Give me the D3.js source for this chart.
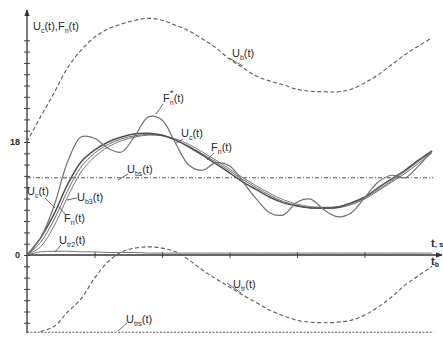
<!DOCTYPE html>
<html>
<head>
<meta charset="utf-8">
<script src="https://cdn.jsdelivr.net/npm/d3@7"></script>
<style>
	body { margin:0; background:#fff; }
	svg { display:block; font-family:'Liberation Sans', Arial, sans-serif; }
	.lbl { font-size:11px; fill:#2a2a2a; }
	.lbl-sub { font-size:7px; }
	.leader { stroke:#555; stroke-width:0.9; }
</style>
</head>
<body>
<svg id="chart" width="443" height="338"></svg>
<script>

// time grid (t, steps of 0.2) and series
var aTime = [0, 0.2, 0.4, 0.6, 0.8, 1.0, 1.2, 1.4, 1.6, 1.8, 2.0, 2.2, 2.4, 2.6, 2.8, 3.0,
	3.2, 3.4, 3.6, 3.8, 4.0, 4.2, 4.4, 4.6, 4.8, 5.0, 5.2, 5.4, 5.6, 5.8, 6.0];

var aUc = [0, 2.7, 6.5, 11.2, 14.8, 16.7, 18.0, 18.8, 19.3, 19.4, 19.1, 18.3, 17.2, 15.9, 14.5, 13.1,
	11.6, 10.4, 9.2, 8.3, 7.8, 7.5, 7.5, 7.6, 8.3, 9.2, 10.7, 12.1, 13.5, 15.1, 16.6];
var aFn = [0, 2.0, 5.6, 10.2, 14.0, 16.2, 17.6, 18.5, 19.0, 19.2, 19.0, 18.3, 17.3, 16.1, 14.8, 13.4,
	12.0, 10.7, 9.5, 8.5, 7.9, 7.5, 7.4, 7.5, 8.0, 8.9, 10.2, 11.6, 13.0, 14.6, 16.2];
var aUb3 = [0, 1.3, 4.6, 9.2, 13.2, 15.6, 17.2, 18.2, 18.8, 19.1, 19.0, 18.5, 17.6, 16.4, 15.1, 13.7,
	12.3, 11.0, 9.8, 8.8, 8.1, 7.7, 7.6, 7.7, 8.2, 9.1, 10.4, 11.8, 13.3, 14.9, 16.4];
var aFnStar = [0, 2.7, 7.8, 14.8, 18.8, 18.6, 17.0, 16.4, 19.0, 22.0, 21.5, 17.8, 14.3, 13.5, 14.7, 14.2,
	11.6, 8.9, 6.7, 6.4, 8.4, 8.9, 7.2, 6.1, 6.7, 9.1, 11.6, 12.7, 12.3, 14.2, 16.6];
var aUb = [18.0, 22.0, 25.8, 29.8, 32.6, 34.7, 36.0, 36.8, 37.4, 37.7, 37.4, 36.6, 35.7, 34.4, 33.0, 31.2,
	29.8, 28.5, 27.7, 27.1, 26.4, 26.1, 26.0, 26.0, 26.4, 27.4, 28.7, 30.3, 31.9, 33.3, 34.6];
var aUtr = [null, -12.2, -11.4, -9.1, -7.0, -3.7, -1.1, 0.5, 1.1, 1.3, 1.1, 0.5, -0.8, -2.4, -3.8, -5.1,
	-6.4, -7.6, -8.8, -9.7, -10.4, -10.7, -10.8, -10.7, -10.4, -9.6, -8.3, -6.7, -4.8, -3.3, -1.8];
var aUtr2 = [0, 0.5, 0.6, 0.6, 0.5, 0.5, 0.4, 0.4, 0.4, 0.3, 0.3, 0.3, 0.3, 0.3, 0.3, 0.3,
	0.3, 0.3, 0.3, 0.3, 0.3, 0.3, 0.3, 0.3, 0.3, 0.3, 0.3, 0.3, 0.3, 0.3, 0.3];

var fUbs = 12.3;
var fUtrs = -12.3;

var aYTickLabels = [0, 18];
var aXTicks = [1, 2, 3, 4, 5];

function DrawChart(vSelector)
{
	var sSvg = d3.select(vSelector);

	var x = d3.scaleLinear().domain([0, 6]).range([27, 432]);
	var y = d3.scaleLinear().domain([0, 18]).range([255, 142]);

	var sDefs = sSvg.append('defs');
	sDefs.append('marker')
		.attr('id', 'arrow')
		.attr('viewBox', '0 0 10 10')
		.attr('refX', '9')
		.attr('refY', '5')
		.attr('markerWidth', '7')
		.attr('markerHeight', '7')
		.attr('markerUnits', 'userSpaceOnUse')
		.attr('orient', 'auto')
		.append('path')
			.attr('d', 'M 0 1 L 10 5 L 0 9 z')
			.attr('fill', '#333');

	// y axis: ticks every 1.8 units crossing the line
	var aYTicks = d3.range(-6, 20).map(function(k) { return +(k * 1.8).toFixed(1); });
	var sYAxis = sSvg.append('g')
		.attr('transform', 'translate(' + x(0) + ',0)')
		.call(d3.axisLeft(y).tickValues(aYTicks).tickSize(3).tickFormat(''));
	sYAxis.select('.domain').remove();
	sYAxis.selectAll('.tick line').attr('x1', -3).attr('x2', 3).attr('stroke', '#444');

	sSvg.append('line')
		.attr('x1', x(0)).attr('y1', y(fUtrs) + 1)
		.attr('x2', x(0)).attr('y2', 10)
		.attr('stroke', '#333').attr('stroke-width', 1.3)
		.attr('marker-end', 'url(#arrow)');

	var sXAxis = sSvg.append('g')
		.attr('transform', 'translate(0,' + y(0) + ')')
		.call(d3.axisBottom(x).tickValues(aXTicks).tickSize(3).tickFormat(''));
	sXAxis.select('.domain').remove();
	sXAxis.selectAll('.tick line').attr('y1', -3).attr('y2', 3).attr('stroke', '#444');

	sSvg.append('line')
		.attr('x1', x(0)).attr('y1', y(0))
		.attr('x2', 442).attr('y2', y(0))
		.attr('stroke', '#333').attr('stroke-width', 1.3)
		.attr('marker-end', 'url(#arrow)');

	sSvg.selectAll('.ylabel')
		.data(aYTickLabels)
		.enter()
			.append('text')
			.attr('class', 'lbl ylabel')
			.attr('x', 20)
			.attr('y', function(d) { return y(d) + 3; })
			.attr('text-anchor', 'end')
			.style('font-size', '9px')
			.style('font-weight', 'bold')
			.text(function(d) { return d; });

	// constant levels
	sSvg.append('line')
		.attr('x1', x(0)).attr('x2', x(6.02))
		.attr('y1', y(fUbs)).attr('y2', y(fUbs))
		.attr('stroke', '#555').attr('stroke-width', 1.1)
		.attr('stroke-dasharray', '4,2,1,2');
	sSvg.append('line')
		.attr('x1', x(0)).attr('x2', x(6.02))
		.attr('y1', y(fUtrs)).attr('y2', y(fUtrs))
		.attr('stroke', '#555').attr('stroke-width', 1.1)
		.attr('stroke-dasharray', '2,1.5');

	function MakeLine()
	{
		return d3.line()
			.defined(function(d) { return d != null; })
			.x(function(d, i) { return x(aTime[i]); })
			.y(function(d) { return y(d); })
			.curve(d3.curveCatmullRom);
	}

	var aSeries = [
		{ data: aUb, color: '#5a5a5a', width: 1.1, dash: '4,2.5' },
		{ data: aUtr, color: '#5a5a5a', width: 1.1, dash: '4,2.5' },
		{ data: aUtr2, color: '#777', width: 1.0, dash: null },
		{ data: aUb3, color: '#777', width: 1.0, dash: null },
		{ data: aFn, color: '#6a6a6a', width: 1.0, dash: null },
		{ data: aUc, color: '#505050', width: 1.5, dash: null },
		{ data: aFnStar, color: '#707070', width: 1.2, dash: null }
	];

	sSvg.selectAll('.curve')
		.data(aSeries)
		.enter()
			.append('path')
			.attr('class', 'curve')
			.attr('fill', 'none')
			.attr('stroke', function(s) { return s.color; })
			.attr('stroke-width', function(s) { return s.width; })
			.attr('stroke-dasharray', function(s) { return s.dash; })
			.attr('d', function(s) { return MakeLine()(s.data); });

	// labels: [x, y, main, sub, rest, sub2, rest2/star, leader x1,y1,x2,y2]
	var aLabels = [
		[33, 30, 'U', 'c', '(t),F', 'n', '(t)', null],
		[232, 57, 'U', 'b', '(t)', null, null, [229, 58, 243, 66]],
		[163, 102, 'F', 'n', '(t)', null, '*', [163, 104, 156, 114]],
		[181, 137, 'U', 'c', '(t)', null, null, [183, 139, 176, 143]],
		[211, 151, 'F', 'n', '(t)', null, null, [214, 153, 207, 160]],
		[127, 173, 'U', 'bs', '(t)', null, null, [128, 174, 118, 180]],
		[27, 195, 'U', 'c', '(t)', null, null, [45, 198, 55, 208]],
		[77, 201, 'U', 'b3', '(t)', null, null, [77, 198, 67, 200]],
		[64, 222, 'F', 'n', '(t)', null, null, [65, 214, 58, 206]],
		[59, 244, 'U', 'tr2', '(t)', null, null, [61, 245, 55, 252]],
		[233, 288, 'U', 'tr', '(t)', null, null, [227, 283, 241, 293]],
		[126, 323, 'U', 'trs', '(t)', null, null, [127, 323, 118, 331]]
	];

	aLabels.forEach(function(a)
	{
		var sText = sSvg.append('text')
			.attr('class', 'lbl')
			.attr('x', a[0])
			.attr('y', a[1]);
		sText.append('tspan').text(a[2]);
		sText.append('tspan').attr('class', 'lbl-sub').attr('dy', 3).text(a[3]);
		sText.append('tspan').attr('dy', -3).text(a[4]);
		if (a[5] != null)
		{
			sText.append('tspan').attr('class', 'lbl-sub').attr('dy', 3).text(a[5]);
			sText.append('tspan').attr('dy', -3).text(a[6]);
		}
		if (a[6] == '*')
		{
			sSvg.append('text')
				.attr('class', 'lbl')
				.attr('x', a[0] + 7)
				.attr('y', a[1] - 6)
				.style('font-size', '9px')
				.text('*');
		}
		var aLeader = a[7];
		if (aLeader)
		{
			sSvg.append('line')
				.attr('class', 'leader')
				.attr('x1', aLeader[0]).attr('y1', aLeader[1])
				.attr('x2', aLeader[2]).attr('y2', aLeader[3]);
		}
	});

	// axis names at the right end
	var sT = sSvg.append('text').attr('class', 'lbl').attr('x', 431).attr('y', 247)
		.style('font-weight', 'bold');
	sT.append('tspan').text('t');
	sT.append('tspan').style('font-size', '8px').text(', s');

	var sTb = sSvg.append('text').attr('class', 'lbl').attr('x', 431).attr('y', 265)
		.style('font-weight', 'bold');
	sTb.append('tspan').text('t');
	sTb.append('tspan').attr('class', 'lbl-sub').attr('dy', 2).text('b');
}

DrawChart('#chart');
</script>
</body>
</html>
